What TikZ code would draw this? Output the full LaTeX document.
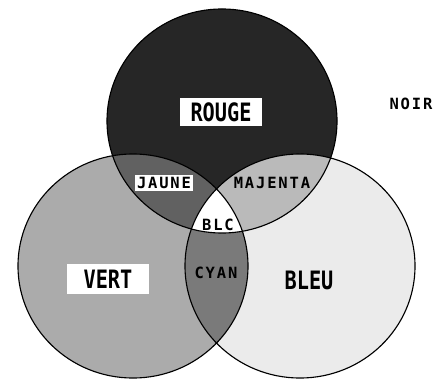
\documentclass[tikz,border=0pt]{standalone}
\usepackage{fontspec}
\usepackage{tikz}
\newfontfamily\pixfont[FakeStretch=0.8]{DejaVu Sans Mono}
\newfontfamily\pixsmall[LetterSpace=12]{DejaVu Sans Mono}
\newcommand{\rxdisc}{2.875cm}
\newcommand{\rydisc}{2.8cm}

\begin{document}
\begin{tikzpicture}[
    x=0.025cm, y=-0.025cm,
    disc/.style={draw=black, line width=0.8pt},
    rouge/.style={fill=black!85},
    vert/.style={fill=black!33},
    bleu/.style={fill=black!8},
    jaune/.style={fill=black!62},
    majenta/.style={fill=black!27},
    cyan/.style={fill=black!52},
    bigname/.style={fill=white, inner sep=0pt, minimum width=58pt, minimum height=20pt,
                    font=\pixfont\bfseries\fontsize{18}{18}\selectfont},
    smallname/.style={inner sep=1.5pt, font=\pixsmall\bfseries\fontsize{11}{11}\selectfont},
    boxed/.style={smallname, fill=white},
]
\useasboundingbox (0,0) rectangle (440,380);

\coordinate (rc) at (222,121);
\coordinate (gc) at (133,266);
\coordinate (bc) at (300,266);

% primaries
\fill[vert]  (gc) ellipse[x radius=\rxdisc, y radius=\rydisc];
\fill[bleu]  (bc) ellipse[x radius=\rxdisc, y radius=\rydisc];
\fill[rouge] (rc) ellipse[x radius=\rxdisc, y radius=\rydisc];

% mixtures
\begin{scope}
    \clip (rc) ellipse[x radius=\rxdisc, y radius=\rydisc];
    \fill[jaune]   (gc) ellipse[x radius=\rxdisc, y radius=\rydisc];
    \fill[majenta] (bc) ellipse[x radius=\rxdisc, y radius=\rydisc];
\end{scope}
\begin{scope}
    \clip (gc) ellipse[x radius=\rxdisc, y radius=\rydisc];
    \fill[cyan] (bc) ellipse[x radius=\rxdisc, y radius=\rydisc];
    \clip (rc) ellipse[x radius=\rxdisc, y radius=\rydisc];
    \fill[white] (bc) ellipse[x radius=\rxdisc, y radius=\rydisc];
\end{scope}

\foreach \c in {rc, gc, bc}
    \draw[disc] (\c) ellipse[x radius=\rxdisc, y radius=\rydisc];

\node[bigname] at (221,112) (lrouge) {ROUGE};
\node[bigname, minimum height=22pt] at (108,279) (lvert) {VERT};
\node[bigname, fill=none] at (309,280) (lbleu) {BLEU};

\node[boxed]     at (164,183) (ljaune)   {JAUNE};
\node[smallname] at (272,183) (lmajenta) {MAJENTA};
\node[smallname] at (218,225) (lblc)     {BLC};
\node[smallname] at (216,273) (lcyan)    {CYAN};
\node[smallname] at (411,104) (lnoir)    {NOIR};

\end{tikzpicture}
\end{document}
